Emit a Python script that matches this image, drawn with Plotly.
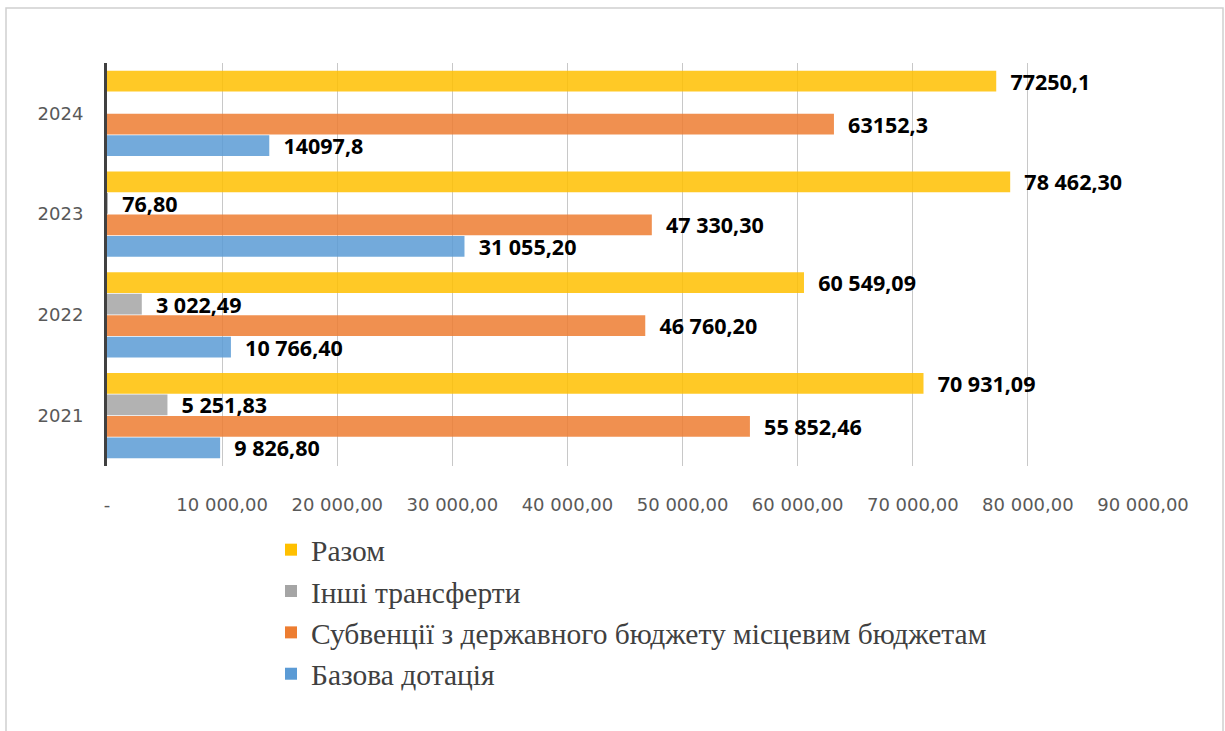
import plotly.graph_objects as go

years = ["2021", "2022", "2023", "2024"]

bazova = [9826.80, 10766.40, 31055.20, 14097.8]
bazova_txt = ["9 826,80", "10 766,40", "31 055,20", "14097,8"]

subventsii = [55852.46, 46760.20, 47330.30, 63152.3]
subventsii_txt = ["55 852,46", "46 760,20", "47 330,30", "63152,3"]

inshi = [5251.83, 3022.49, 76.80, None]
inshi_txt = ["5 251,83", "3 022,49", "76,80", ""]

razom = [70931.09, 60549.09, 78462.30, 77250.1]
razom_txt = ["70 931,09", "60 549,09", "78 462,30", "77250,1"]

x_tickvals = [0, 10000, 20000, 30000, 40000, 50000, 60000, 70000, 80000, 90000]
x_ticktext = ["-", "10 000,00", "20 000,00", "30 000,00", "40 000,00",
              "50 000,00", "60 000,00", "70 000,00", "80 000,00", "90 000,00"]

series = [
    ("Базова дотація", bazova, bazova_txt, "#5B9BD5"),
    ("Субвенції з державного бюджету місцевим бюджетам", subventsii, subventsii_txt, "#ED7D31"),
    ("Інші трансферти", inshi, inshi_txt, "#A5A5A5"),
    ("Разом", razom, razom_txt, "#FFC000"),
]

PAD = "\u00a0\u00a0"

fig = go.Figure()
for name, vals, txt, col in series:
    fig.add_trace(go.Bar(
        name=name,
        y=years,
        x=vals,
        orientation="h",
        text=[(PAD + t) if t else "" for t in txt],
        textposition="outside",
        constraintext="none",
        cliponaxis=False,
        textfont=dict(family="Open Sans", size=21.5, color="#000000", weight="bold"),
        marker=dict(color=col, opacity=0.85, line=dict(width=0)),
    ))

L, R, T, B = 107, 82, 63, 265

fig.update_layout(
    width=1225, height=731,
    margin=dict(l=L, r=R, t=T, b=B, pad=0, autoexpand=False),
    paper_bgcolor="white",
    plot_bgcolor="white",
    barmode="group",
    bargap=0.145,
    bargroupgap=0.03,
    font=dict(family="DejaVu Sans", color="#595959"),
    showlegend=True,
    legend=dict(
        traceorder="reversed",
        xref="container", yref="container",
        x=271 / 1225, y=1 - 524 / 731, xanchor="left", yanchor="top",
        font=dict(family="Liberation Serif", size=29.5, color="#404040"),
        bgcolor="rgba(0,0,0,0)",
    ),
    xaxis=dict(
        range=[0, 90000],
        tickvals=x_tickvals,
        ticktext=x_ticktext,
        showgrid=True,
        gridcolor="#C8C8C8",
        gridwidth=1,
        zeroline=False,
        showline=False,
        ticks="",
        ticklabelstandoff=26,
        tickfont=dict(family="DejaVu Sans", size=18, color="#595959"),
        automargin=False,
        fixedrange=True,
    ),
    yaxis=dict(
        showgrid=False,
        zeroline=False,
        showline=True,
        linecolor="#404040",
        linewidth=3,
        ticks="",
        ticklabelstandoff=17,
        tickfont=dict(family="DejaVu Sans", size=18, color="#595959"),
        automargin=False,
        fixedrange=True,
    ),
    shapes=[dict(
        type="rect", xref="paper", yref="paper",
        x0=(6 - L) / 1036, x1=(1223 - L) / 1036,
        y0=-(760 - 466) / 403, y1=(466 - 8) / 403,
        line=dict(color="#D0D0D0", width=1.5),
        fillcolor="rgba(0,0,0,0)",
        layer="below",
    )],
)

fig.write_html("out.html", config={"displayModeBar": False},
               post_script="document.body.style.margin='0';")
